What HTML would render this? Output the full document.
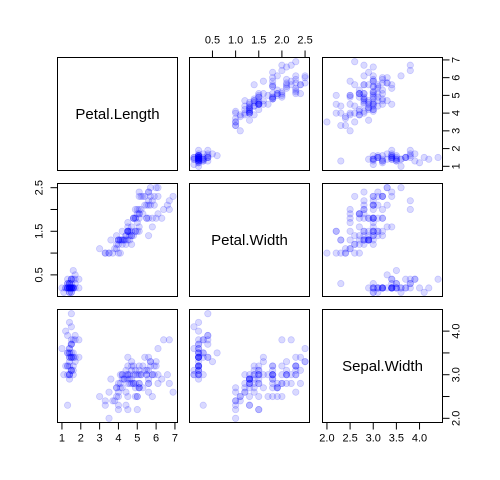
<!DOCTYPE html>
<html><head><meta charset="utf-8"><style>
html,body{margin:0;padding:0;background:#fff;}
svg{display:block;font-family:"Liberation Sans",Arial,sans-serif;}
</style></head><body>
<svg id="chart" width="500" height="480" viewBox="0 0 500 480"></svg>
<script>
const varNames = ["Petal.Length","Petal.Width","Sepal.Width"];
const petalLength = [1.4,1.4,1.3,1.5,1.4,1.7,1.4,1.5,1.4,1.5,1.5,1.6,1.4,1.1,1.2,1.5,1.3,1.4,1.7,1.5,1.7,1.5,1.0,1.7,1.9,1.6,1.6,1.5,1.4,1.6,1.6,1.5,1.5,1.4,1.5,1.2,1.3,1.4,1.3,1.5,1.3,1.3,1.3,1.6,1.9,1.4,1.6,1.4,1.5,1.4,
4.7,4.5,4.9,4.0,4.6,4.5,4.7,3.3,4.6,3.9,3.5,4.2,4.0,4.7,3.6,4.4,4.5,4.1,4.5,3.9,4.8,4.0,4.9,4.7,4.3,4.4,4.8,5.0,4.5,3.5,3.8,3.7,3.9,5.1,4.5,4.5,4.7,4.4,4.1,4.0,4.4,4.6,4.0,3.3,4.2,4.2,4.2,4.3,3.0,4.1,
6.0,5.1,5.9,5.6,5.8,6.6,4.5,6.3,5.8,6.1,5.1,5.3,5.5,5.0,5.1,5.3,5.5,6.7,6.9,5.0,5.7,4.9,6.7,4.9,5.7,6.0,4.8,4.9,5.6,5.8,6.1,6.4,5.6,5.1,5.6,6.1,5.6,5.5,4.8,5.4,5.6,5.1,5.1,5.9,5.7,5.2,5.0,5.2,5.4,5.1];
const petalWidth = [0.2,0.2,0.2,0.2,0.2,0.4,0.3,0.2,0.2,0.1,0.2,0.2,0.1,0.1,0.2,0.4,0.4,0.3,0.3,0.3,0.2,0.4,0.2,0.5,0.2,0.2,0.4,0.2,0.2,0.2,0.2,0.4,0.1,0.2,0.2,0.2,0.2,0.1,0.2,0.2,0.3,0.3,0.2,0.6,0.4,0.3,0.2,0.2,0.2,0.2,
1.4,1.5,1.5,1.3,1.5,1.3,1.6,1.0,1.3,1.4,1.0,1.5,1.0,1.4,1.3,1.4,1.5,1.0,1.5,1.1,1.8,1.3,1.5,1.2,1.3,1.4,1.4,1.7,1.5,1.0,1.1,1.0,1.2,1.6,1.5,1.6,1.5,1.3,1.3,1.3,1.2,1.4,1.2,1.0,1.3,1.2,1.3,1.3,1.1,1.3,
2.5,1.9,2.1,1.8,2.2,2.1,1.7,1.8,1.8,2.5,2.0,1.9,2.1,2.0,2.4,2.3,1.8,2.2,2.3,1.5,2.3,2.0,2.0,1.8,2.1,1.8,1.8,1.8,2.1,1.6,1.9,2.0,2.2,1.5,1.4,2.3,2.4,1.8,1.8,2.1,2.4,2.3,1.9,2.3,2.5,2.3,1.9,2.0,2.3,1.8];
const sepalWidth = [3.5,3.0,3.2,3.1,3.6,3.9,3.4,3.4,2.9,3.1,3.7,3.4,3.0,3.0,4.0,4.4,3.9,3.5,3.8,3.8,3.4,3.7,3.6,3.3,3.4,3.0,3.4,3.5,3.4,3.2,3.1,3.4,4.1,4.2,3.1,3.2,3.5,3.6,3.0,3.4,3.5,2.3,3.2,3.5,3.8,3.0,3.8,3.2,3.7,3.3,
3.2,3.2,3.1,2.3,2.8,2.8,3.3,2.4,2.9,2.7,2.0,3.0,2.2,2.9,2.9,3.1,3.0,2.7,2.2,2.5,3.2,2.8,2.5,2.8,2.9,3.0,2.8,3.0,2.9,2.6,2.4,2.4,2.7,2.7,3.0,3.4,3.1,2.3,3.0,2.5,2.6,3.0,2.6,2.3,2.7,3.0,2.9,2.9,2.5,2.8,
3.3,2.7,3.0,2.9,3.0,3.0,2.5,2.9,2.5,3.6,3.2,2.7,3.0,2.5,2.8,3.2,3.0,3.8,2.6,2.2,3.2,2.8,2.8,2.7,3.3,3.2,2.8,3.0,2.8,3.0,2.8,3.8,2.8,2.8,2.6,3.0,3.4,3.1,3.0,3.1,3.1,3.1,2.7,3.2,3.3,3.0,2.5,3.0,3.4,3.0];
const petalLengthTicks = [1,2,3,4,5,6,7];
const petalWidthTicks = [0.5,1.0,1.5,2.0,2.5];
const sepalWidthTicks = [2.0,2.5,3.0,3.5,4.0];

const svg = document.getElementById('chart');
const NS = 'http://www.w3.org/2000/svg';
const data = [petalLength, petalWidth, sepalWidth];
const tickSets = [petalLengthTicks, petalWidthTicks, sepalWidthTicks];
const colX = [57.5, 189.5, 322.5], colW = 120;
const rowY = [57.5, 183.5, 309.5], rowH = 113;
function range(a){let mn=Math.min(...a),mx=Math.max(...a),p=(mx-mn)*0.04;return [mn-p,mx+p];}
const ranges = data.map(range);
function sx(v,c){const r=ranges[c];return colX[c]+(v-r[0])/(r[1]-r[0])*colW;}
function sy(v,r){const g=ranges[r];return rowY[r]+rowH-(v-g[0])/(g[1]-g[0])*rowH;}
function mk(tag,attrs){const e=document.createElementNS(NS,tag);for(const k in attrs)e.setAttribute(k,attrs[k]);svg.appendChild(e);return e;}

for(let r=0;r<3;r++){for(let c=0;c<3;c++){
  const box=mk('rect',{x:colX[c],y:rowY[r],width:colW,height:rowH,fill:'none',stroke:'#000','stroke-width':1});
  
  
  if(r===c){
    const t=mk('text',{x:colX[c]+colW/2,y:rowY[r]+rowH/2+5,'text-anchor':'middle','font-size':15});
    t.textContent=varNames[r];
    
    
  } else {
    for(let i=0;i<150;i++){
      const p=mk('circle',{cx:sx(data[c][i],c),cy:sy(data[r][i],r),r:3.2,fill:'rgba(0,0,255,0.15)',stroke:'rgba(0,0,255,0.18)','stroke-width':0.7});
      
      
    }
  }
}}
for(let c=0;c<3;c++){
  const top=(c===1);
  const y0=top?rowY[0]:rowY[2]+rowH;
  tickSets[c].forEach((v,i)=>{
    const x=sx(v,c);
    const l=mk('line',{x1:x,x2:x,y1:y0,y2:top?y0-7:y0+7,stroke:'#000'});
    
    
    const t=mk('text',{x:x,y:top?y0-14:y0+19,'text-anchor':'middle','font-size':11});
    t.textContent=c===0?String(v):v.toFixed(1);
    
    
  });
}
for(let r=0;r<3;r++){
  const left=(r===1);
  const x0=left?colX[0]:colX[2]+colW;
  tickSets[r].forEach((v,i)=>{
    const y=sy(v,r);
    const l=mk('line',{x1:x0,x2:left?x0-7:x0+7,y1:y,y2:y,stroke:'#000'});
    
    
    if(r!==0 && i%2===1) return;
    const tx=left?x0-15:x0+17;
    const t=mk('text',{x:tx,y:y,'text-anchor':'middle','font-size':11,transform:'rotate(-90 '+tx+' '+y+')'});
    t.textContent=r===0?String(v):v.toFixed(1);
    
    
  });
}
</script>
</body></html>
